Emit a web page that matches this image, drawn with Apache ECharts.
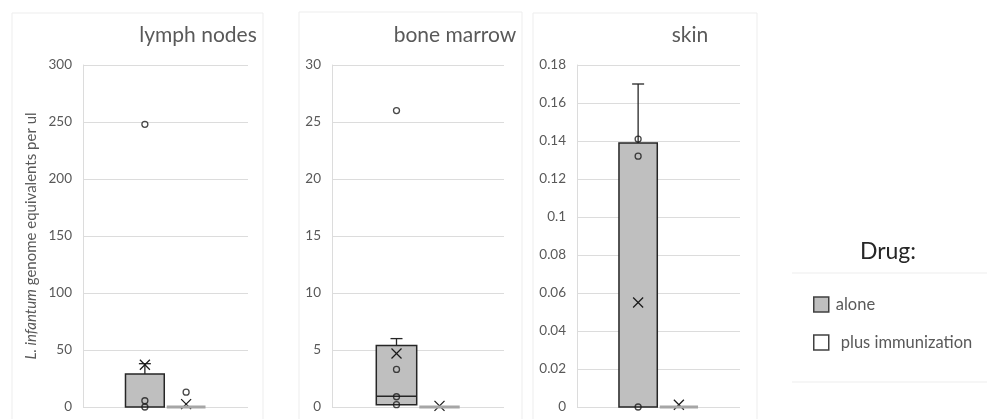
<!DOCTYPE html>
<html><head><meta charset="utf-8">
<script src="https://cdn.jsdelivr.net/npm/echarts@6/dist/echarts.min.js"></script>
<style>html,body{margin:0;padding:0;background:#fff}#c{width:987px;height:419px}</style>
</head><body><div id="c"></div>
<script>
// ---- data ----
const panelTitles = ['lymph nodes', 'bone marrow', 'skin'];
const groups = ['alone', 'plus immunization'];
const axisCategories = [' ', 'alone', 'plus immunization', '  '];
// box stats: [min, Q1, median, Q3, max]
const lymphBoxes = [[0, 0, 0, 29, 38], [0, 0, 0, 0.3, 0.3]];
const lymphMeans = [37, 2.5];
const lymphPoints = [[248, 5.5, 0], [13]];
const marrowBoxes = [[0.2, 0.2, 0.95, 5.4, 6.0], [0, 0, 0, 0.03, 0.03]];
const marrowMeans = [4.7, 0.1];
const marrowPoints = [[26, 3.3, 0.9, 0.2], []];
const skinBoxes = [[0, 0, 0, 0.139, 0.17], [0, 0, 0, 0.0003, 0.0003]];
const skinMeans = [0.055, 0.0012];
const skinPoints = [[0.141, 0.132, 0], []];
const lymphTicks = [0, 50, 100, 150, 200, 250, 300];
const marrowTicks = [0, 5, 10, 15, 20, 25, 30];
const skinTicks = [0, 0.02, 0.04, 0.06, 0.08, 0.1, 0.12, 0.14, 0.16, 0.18];
const yAxisName = '{i|L. infantum} genome equivalents per ul';
const legendTitle = 'Drug:';

// ---- layout / style ----
const FONT = 'Lato, "Open Sans", sans-serif';
const GRAY_TXT = '#595959';
const GRID_LINE = '#dcdcdc';
const layout = [
  { left: 83, width: 165, titleX: 198 },
  { left: 332, width: 172, titleX: 455 },
  { left: 577, width: 163, titleX: 690 }
];
const boxFill = ['#bfbfbf', '#ffffff'];
const boxStroke = '#262626';

const panelData = [
  { boxes: lymphBoxes, means: lymphMeans, points: lymphPoints, ticks: lymphTicks },
  { boxes: marrowBoxes, means: marrowMeans, points: marrowPoints, ticks: marrowTicks },
  { boxes: skinBoxes, means: skinMeans, points: skinPoints, ticks: skinTicks }
];

function makeRender(fill) {
  return function (params, api) {
    const x = api.value(0);
    const vMin = api.value(1), q1 = api.value(2), med = api.value(3), q3 = api.value(4), vMax = api.value(5);
    const mean = api.value(6);
    const band = api.size([1, 0])[0];
    const w = band * 0.94;
    const cx = api.coord([x, 0])[0];
    const Y = v => api.coord([x, v])[1];
    const yMin = Y(vMin), yQ1 = Y(q1), yMed = Y(med), yQ3 = Y(q3), yMax = Y(vMax);
    const ls = { stroke: boxStroke, lineWidth: 1.3 };
    const ch = [];
    const line = (x1, y1, x2, y2, st) => ({ type: 'line', shape: { x1, y1, x2, y2 }, style: st || ls });
    if (yQ3 - yMax > 0.5) { ch.push(line(cx, yQ3, cx, yMax), line(cx - 6, yMax, cx + 6, yMax)); }
    if (yMin - yQ1 > 0.5) { ch.push(line(cx, yQ1, cx, yMin), line(cx - 6, yMin, cx + 6, yMin)); }
    const flat = (yQ1 - yQ3) < 2;
    if (!flat) {
      ch.push({ type: 'rect', shape: { x: cx - w / 2, y: yQ3, width: w, height: yQ1 - yQ3 },
        style: { fill: fill, stroke: boxStroke, lineWidth: 1.5 } });
      if (yQ1 - yMed > 1 && yMed - yQ3 > 1) ch.push(line(cx - w / 2, yMed, cx + w / 2, yMed, { stroke: boxStroke, lineWidth: 1.5 }));
    }
    const ym = Y(mean), s = 5;
    ch.push(line(cx - s, ym - s, cx + s, ym + s, { stroke: '#1a1a1a', lineWidth: 1.3 }));
    ch.push(line(cx - s, ym + s, cx + s, ym - s, { stroke: '#1a1a1a', lineWidth: 1.3 }));
    if (flat) {
      ch.push(line(cx - w / 2, yQ1, cx + w / 2, yQ1, { stroke: '#a6a6a6', lineWidth: 3 }));
    }
    return { type: 'group', children: ch };
  };
}

const grids = [], xAxes = [], yAxes = [], series = [], titles = [];
layout.forEach((L, p) => {
  const d = panelData[p];
  const ticks = d.ticks;
  grids.push({ left: L.left, width: L.width, top: 65, height: 342 });
  xAxes.push({ type: 'category', gridIndex: p, data: axisCategories, show: false, boundaryGap: true });
  yAxes.push({
    type: 'value', gridIndex: p, min: ticks[0], max: ticks[ticks.length - 1], interval: ticks[1] - ticks[0],
    axisLine: { show: true, lineStyle: { color: GRID_LINE, width: 1 } },
    axisTick: { show: false },
    splitLine: { show: true, lineStyle: { color: GRID_LINE, width: 1 } },
    axisLabel: { color: GRAY_TXT, fontSize: 13.5, fontFamily: FONT, margin: 11 },
    name: p === 0 ? yAxisName : '',
    nameLocation: 'middle', nameGap: 44, nameRotate: 90,
    nameTextStyle: {
      color: GRAY_TXT, fontSize: 15, fontFamily: FONT,
      rich: { i: { fontStyle: 'italic', color: GRAY_TXT, fontSize: 15, fontFamily: FONT } }
    }
  });
  titles.push({
    text: panelTitles[p], left: L.titleX, top: 25, textAlign: 'center', padding: 0,
    textStyle: { fontSize: 21, fontWeight: 'normal', color: GRAY_TXT, fontFamily: FONT }
  });
  groups.forEach((g, gi) => {
    series.push({
      type: 'custom', name: g, xAxisIndex: p, yAxisIndex: p,
      itemStyle: { color: boxFill[gi], borderColor: boxStroke },
      renderItem: makeRender(boxFill[gi]),
      encode: { x: 0, y: [1, 2, 3, 4, 5, 6] },
      data: [[g].concat(d.boxes[gi], [d.means[gi]])],
      z: 3
    });
    series.push({
      type: 'scatter', name: 'points', xAxisIndex: p, yAxisIndex: p,
      symbol: 'circle', symbolSize: 6,
      itemStyle: { color: 'rgba(255,255,255,0)', borderColor: '#1a1a1a', borderWidth: 1.3 },
      data: d.points[gi].map(v => [g, v]),
      z: 5, silent: true
    });
  });
});
titles.push({
  text: legendTitle, left: 888, top: 240, textAlign: 'center', padding: 0,
  textStyle: { fontSize: 23, fontWeight: 'normal', color: '#262626', fontFamily: FONT }
});

const chart = echarts.init(document.getElementById('c'), null, { renderer: 'canvas' });
chart.setOption({
  animation: false,
  backgroundColor: '#ffffff',
  title: titles,
  grid: grids, xAxis: xAxes, yAxis: yAxes, series: series,
  legend: {
    orient: 'vertical', left: 813, top: 296, itemWidth: 15, itemHeight: 15, itemGap: 21,
    selectedMode: false, icon: 'rect', padding: 0,
    textStyle: { color: GRAY_TXT, fontSize: 16.5, fontFamily: FONT },
    data: [
      { name: groups[0], itemStyle: { color: boxFill[0], borderColor: '#404040', borderWidth: 1.5 }, textStyle: { padding: [0, 0, 0, 2] } },
      { name: groups[1], itemStyle: { color: boxFill[1], borderColor: '#404040', borderWidth: 1.5 }, textStyle: { padding: [0, 0, 0, 7] } }
    ]
  },
  graphic: [
    { type: 'rect', z: -10, shape: { x: 12, y: 13, width: 251, height: 420 }, style: { fill: 'none', stroke: '#ededed', lineWidth: 1 } },
    { type: 'rect', z: -10, shape: { x: 299, y: 12, width: 223, height: 420 }, style: { fill: 'none', stroke: '#ededed', lineWidth: 1 } },
    { type: 'rect', z: -10, shape: { x: 533, y: 13, width: 224, height: 420 }, style: { fill: 'none', stroke: '#ededed', lineWidth: 1 } },
    { type: 'line', z: -10, shape: { x1: 792, y1: 273, x2: 987, y2: 273 }, style: { stroke: '#ededed', lineWidth: 1 } },
    { type: 'line', z: -10, shape: { x1: 792, y1: 382, x2: 987, y2: 382 }, style: { stroke: '#ededed', lineWidth: 1 } }
  ]
});
</script></body></html>
